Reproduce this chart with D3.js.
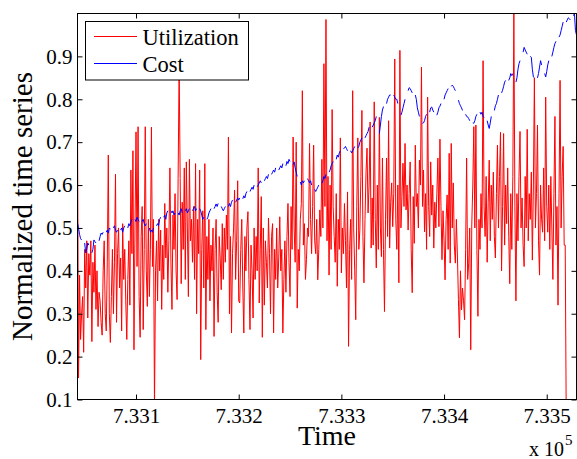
<!DOCTYPE html>
<html>
<head>
<meta charset="utf-8">
<script src="https://cdn.jsdelivr.net/npm/d3@7"></script>
<style>
  html, body { margin: 0; padding: 0; background: #fff; }
  svg { display: block; }
  text { font-family: "Liberation Serif", "Times New Roman", serif; fill: #000; }
</style>
</head>
<body>
<svg id="chart" width="577" height="459"></svg>
<script>
// Day numbers (datenum) of the first sample; one sample per day.
const firstDay = 733043;

// Daily utilization, one row per week (Mon..Sun).
const utilizationWeeks = [
  [0.76, 0.15, 0.39, 0.24, 0.30, 0.34, 0.21],
  [0.45, 0.36, 0.47, 0.29, 0.44, 0.39, 0.47],
  [0.235, 0.42, 0.35, 0.46, 0.31, 0.40, 0.27],
  [0.35, 0.33, 0.28, 0.25, 0.40, 0.47, 0.30],
  [0.26, 0.42, 0.67, 0.30, 0.233, 0.34, 0.45],
  [0.30, 0.42, 0.625, 0.28, 0.44, 0.50, 0.36],
  [0.43, 0.26, 0.51, 0.38, 0.45, 0.33, 0.24],
  [0.38, 0.47, 0.32, 0.635, 0.44, 0.68, 0.216],
  [0.50, 0.724, 0.41, 0.736, 0.34, 0.245, 0.48],
  [0.55, 0.263, 0.45, 0.736, 0.40, 0.317, 0.52],
  [0.34, 0.45, 0.735, 0.41, 0.52, 0.08, 0.40],
  [0.47, 0.33, 0.52, 0.40, 0.495, 0.31, 0.46],
  [0.38, 0.557, 0.43, 0.50, 0.35, 0.47, 0.64],
  [0.42, 0.31, 0.53, 0.45, 0.58, 0.40, 0.333],
  [0.615, 0.88, 0.615, 0.37, 0.56, 0.45, 0.64],
  [0.38, 0.654, 0.50, 0.34, 0.66, 0.47, 0.52],
  [0.42, 0.55, 0.38, 0.65, 0.30, 0.52, 0.44],
  [0.635, 0.193, 0.45, 0.54, 0.36, 0.65, 0.263],
  [0.48, 0.38, 0.52, 0.33, 0.46, 0.40, 0.50],
  [0.247, 0.45, 0.52, 0.35, 0.28, 0.48, 0.43],
  [0.356, 0.51, 0.38, 0.50, 0.42, 0.53, 0.45],
  [0.712, 0.30, 0.48, 0.255, 0.44, 0.50, 0.588],
  [0.38, 0.47, 0.61, 0.33, 0.325, 0.45, 0.52],
  [0.36, 0.255, 0.48, 0.40, 0.50, 0.538, 0.38],
  [0.263, 0.46, 0.40, 0.29, 0.50, 0.38, 0.48],
  [0.40, 0.64, 0.325, 0.45, 0.573, 0.245, 0.50],
  [0.32, 0.47, 0.42, 0.36, 0.523, 0.44, 0.30],
  [0.48, 0.51, 0.255, 0.45, 0.38, 0.50, 0.36],
  [0.43, 0.526, 0.40, 0.45, 0.255, 0.38, 0.47],
  [0.35, 0.48, 0.557, 0.42, 0.34, 0.55, 0.45],
  [0.712, 0.50, 0.42, 0.70, 0.313, 0.45, 0.40],
  [0.52, 0.557, 0.82, 0.46, 0.51, 0.38, 0.426],
  [0.50, 0.48, 0.697, 0.52, 0.44, 0.55, 0.693],
  [0.47, 0.44, 0.52, 0.379, 0.45, 0.542, 0.48],
  [0.66, 0.50, 0.883, 0.55, 0.986, 0.47, 0.62],
  [0.39, 0.60, 0.45, 0.776, 0.55, 0.48, 0.42],
  [0.58, 0.364, 0.52, 0.45, 0.71, 0.395, 0.50],
  [0.44, 0.557, 0.47, 0.36, 0.584, 0.224, 0.45],
  [0.52, 0.38, 0.82, 0.50, 0.40, 0.286, 0.55],
  [0.71, 0.45, 0.495, 0.62, 0.774, 0.48, 0.372],
  [0.52, 0.63, 0.686, 0.535, 0.60, 0.747, 0.453],
  [0.57, 0.46, 0.794, 0.52, 0.407, 0.60, 0.45],
  [0.758, 0.50, 0.433, 0.663, 0.45, 0.305, 0.52],
  [0.663, 0.48, 0.75, 0.453, 0.56, 0.605, 0.503],
  [0.58, 0.894, 0.519, 0.45, 0.60, 0.372, 0.914],
  [0.50, 0.573, 0.651, 0.55, 0.697, 0.542, 0.60],
  [0.495, 0.58, 0.654, 0.45, 0.349, 0.573, 0.464],
  [0.693, 0.55, 0.58, 0.50, 0.658, 0.60, 0.875],
  [0.55, 0.635, 0.491, 0.58, 0.45, 0.805, 0.55],
  [0.48, 0.654, 0.53, 0.60, 0.453, 0.56, 0.50],
  [0.58, 0.663, 0.503, 0.707, 0.55, 0.426, 0.54],
  [0.47, 0.379, 0.52, 0.577, 0.45, 0.674, 0.418],
  [0.697, 0.50, 0.605, 0.46, 0.418, 0.52, 0.437],
  [0.333, 0.244, 0.40, 0.309, 0.36, 0.33, 0.286],
  [0.45, 0.663, 0.38, 0.418, 0.50, 0.216, 0.507],
  [0.60, 0.736, 0.50, 0.74, 0.45, 0.294, 0.52],
  [0.45, 0.58, 0.50, 0.89, 0.55, 0.48, 0.62],
  [0.42, 0.56, 0.658, 0.47, 0.60, 0.52, 0.63],
  [0.48, 0.43, 0.58, 0.693, 0.50, 0.62, 0.723],
  [0.40, 0.55, 0.72, 0.46, 0.60, 0.51, 0.64],
  [0.48, 0.37, 0.58, 0.45, 0.62, 1.0, 0.55],
  [0.33, 0.58, 0.47, 0.62, 0.725, 0.50, 0.57],
  [0.46, 0.41, 0.62, 0.50, 0.73, 0.47, 0.58],
  [0.52, 0.63, 0.425, 0.60, 0.85, 0.50, 0.58],
  [0.74, 0.47, 0.39, 0.60, 0.52, 0.49, 0.64],
  [0.47, 0.805, 0.55, 0.49, 0.60, 0.45, 0.62],
  [0.50, 0.38, 0.58, 0.76, 0.46, 0.55, 0.32],
  [0.58, 0.844, 0.50, 0.62, 0.69, 0.46, 0.46],
  [0.06, 0.05, 0.07, 0.04, 0.06, 0.05, 0.06],
  [0.05, 0.06, 0.04, 0.05]
];

// Daily cost, one row per week; weekends have no value (null).
const costWeeks = [
  [0.512, 0.50, 0.485, 0.475, 0.472, null, null],
  [0.465, 0.442, 0.45, 0.465, 0.46, null, null],
  [0.442, 0.45, 0.472, 0.468, 0.465, null, null],
  [0.47, 0.48, 0.488, 0.485, 0.49, null, null],
  [0.49, 0.495, 0.488, 0.50, 0.497, null, null],
  [0.50, 0.505, 0.495, 0.49, 0.495, null, null],
  [0.495, 0.50, 0.49, 0.50, 0.505, null, null],
  [0.50, 0.51, 0.505, 0.515, 0.52, null, null],
  [0.52, 0.515, 0.525, 0.52, 0.515, null, null],
  [0.515, 0.52, 0.51, 0.505, 0.51, null, null],
  [0.50, 0.49, 0.495, 0.49, 0.50, null, null],
  [0.505, 0.51, 0.505, 0.52, 0.525, null, null],
  [0.525, 0.53, 0.52, 0.535, 0.54, null, null],
  [0.54, 0.535, 0.54, 0.53, 0.535, null, null],
  [0.535, 0.53, 0.54, 0.545, 0.535, null, null],
  [0.54, 0.545, 0.535, 0.54, 0.545, null, null],
  [0.54, 0.545, 0.55, 0.54, 0.545, null, null],
  [0.545, 0.54, 0.53, 0.52, 0.525, null, null],
  [0.52, 0.525, 0.535, 0.54, 0.545, null, null],
  [0.545, 0.55, 0.556, 0.55, 0.557, null, null],
  [0.55, 0.545, 0.54, 0.545, 0.55, null, null],
  [0.55, 0.557, 0.55, 0.56, 0.565, null, null],
  [0.56, 0.565, 0.57, 0.565, 0.57, null, null],
  [0.568, 0.575, 0.57, 0.58, 0.585, null, null],
  [0.585, 0.59, 0.595, 0.59, 0.60, null, null],
  [0.596, 0.60, 0.605, 0.61, 0.605, null, null],
  [0.61, 0.615, 0.62, 0.615, 0.625, null, null],
  [0.625, 0.63, 0.635, 0.63, 0.64, null, null],
  [0.635, 0.64, 0.645, 0.64, 0.65, null, null],
  [0.645, 0.655, 0.65, 0.66, 0.655, null, null],
  [0.648, 0.654, 0.64, 0.63, 0.62, null, null],
  [0.607, 0.60, 0.61, 0.605, 0.61, null, null],
  [0.615, 0.61, 0.605, 0.61, 0.60, null, null],
  [0.59, 0.585, 0.59, 0.595, 0.60, null, null],
  [0.604, 0.61, 0.62, 0.615, 0.625, null, null],
  [0.63, 0.635, 0.645, 0.65, 0.655, null, null],
  [0.66, 0.67, 0.665, 0.675, 0.68, null, null],
  [0.685, 0.686, 0.69, 0.685, 0.68, null, null],
  [0.68, 0.675, 0.68, 0.685, 0.69, null, null],
  [0.686, 0.69, 0.70, 0.705, 0.71, null, null],
  [0.71, 0.715, 0.72, 0.725, 0.735, null, null],
  [0.735, 0.74, 0.745, 0.75, 0.76, null, null],
  [0.72, 0.74, 0.76, 0.775, 0.783, null, null],
  [0.79, 0.80, 0.805, 0.81, 0.81, null, null],
  [0.81, 0.805, 0.80, 0.80, 0.79, null, null],
  [0.763, 0.77, 0.78, 0.79, 0.80, null, null],
  [0.82, 0.827, 0.825, 0.82, 0.815, null, null],
  [0.81, 0.80, 0.78, 0.77, 0.76, null, null],
  [0.744, 0.745, 0.75, 0.76, 0.765, null, null],
  [0.77, 0.78, 0.782, 0.775, 0.77, null, null],
  [0.763, 0.77, 0.78, 0.784, 0.79, null, null],
  [0.80, 0.81, 0.815, 0.82, 0.825, null, null],
  [0.83, 0.833, 0.83, 0.825, 0.82, null, null],
  [0.798, 0.79, 0.785, 0.78, 0.774, null, null],
  [0.765, 0.76, 0.759, 0.755, 0.75, null, null],
  [0.745, 0.744, 0.75, 0.76, 0.765, null, null],
  [0.77, 0.765, 0.77, 0.76, 0.757, null, null],
  [0.75, 0.74, 0.732, 0.745, 0.76, null, null],
  [0.774, 0.785, 0.79, 0.80, 0.81, null, null],
  [0.815, 0.821, 0.83, 0.84, 0.844, null, null],
  [0.844, 0.85, 0.86, 0.855, 0.86, null, null],
  [0.84, 0.85, 0.87, 0.883, 0.89, null, null],
  [0.91, 0.921, 0.915, 0.91, 0.905, null, null],
  [0.90, 0.898, 0.87, 0.852, 0.85, null, null],
  [0.85, 0.86, 0.875, 0.89, 0.88, null, null],
  [0.86, 0.852, 0.865, 0.88, 0.89, null, null],
  [0.90, 0.91, 0.921, 0.93, 0.935, null, null],
  [0.945, 0.95, 0.96, 0.97, 0.98, null, null],
  [0.98, 0.985, 0.99, 0.988, 0.985, null, null],
  [0.995, 1.0, 0.96, 0.95]
];

const yTicks = [0.1, 0.2, 0.3, 0.4, 0.5, 0.6, 0.7, 0.8, 0.9];
const xTicks = [733100, 733200, 733300, 733400, 733500];
const xTickLabels = ["7.331", "7.332", "7.333", "7.334", "7.335"];
const seriesNames = ["Utilization", "Cost"];
const seriesColors = ["#ff0000", "#0000ff"];

const utilization = utilizationWeeks.flat();
const cost = costWeeks.flat();

const svg = d3.select("#chart");
const plot = { left: 77.5, right: 576.5, top: 13.5, bottom: 399.5 };

const x = d3.scaleLinear()
  .domain([firstDay, firstDay + utilization.length - 1])
  .range([plot.left, plot.right]);
const y = d3.scaleLinear()
  .domain([0.1, 1.0])
  .range([plot.bottom, plot.top]);

svg.append("defs").append("clipPath").attr("id", "plot-clip")
  .append("rect")
  .attr("x", plot.left).attr("y", plot.top)
  .attr("width", plot.right - plot.left)
  .attr("height", plot.bottom - plot.top);

const line = d3.line()
  .defined(v => v != null)
  .x((v, i) => x(firstDay + i))
  .y(v => y(v));

const lines = svg.append("g").attr("clip-path", "url(#plot-clip)");
[utilization, cost].forEach((series, k) => {
  lines.append("path")
    .datum(series)
    .attr("fill", "none")
    .attr("stroke", seriesColors[k])
    .attr("stroke-width", 1)
    .attr("stroke-linejoin", "round")
    .attr("d", line);
});

// Axes: ticks point inward on all four sides, labels on left and bottom.
const tickFont = 21;
const bottomAxis = d3.axisBottom(x).tickValues(xTicks)
  .tickFormat((d, i) => xTickLabels[i]).tickSizeInner(-5).tickSizeOuter(0).tickPadding(9);
const topAxis = d3.axisTop(x).tickValues(xTicks).tickFormat("")
  .tickSizeInner(-5).tickSizeOuter(0);
const leftAxis = d3.axisLeft(y).tickValues(yTicks)
  .tickFormat(d3.format(".1f")).tickSizeInner(-5).tickSizeOuter(0).tickPadding(5);
const rightAxis = d3.axisRight(y).tickValues(yTicks).tickFormat("")
  .tickSizeInner(-5).tickSizeOuter(0);

function styleAxis(g) {
  g.select(".domain").remove();
  g.selectAll(".tick line").attr("stroke", "#000").attr("stroke-width", 1);
  g.selectAll(".tick text")
    .attr("font-family", '"Liberation Serif", "Times New Roman", serif')
    .attr("font-size", tickFont)
    .attr("fill", "#000");
}

svg.append("g").attr("transform", `translate(0,${plot.bottom})`).call(bottomAxis).call(styleAxis);
svg.append("g").attr("transform", `translate(0,${plot.top})`).call(topAxis).call(styleAxis);
svg.append("g").attr("transform", `translate(${plot.left},0)`).call(leftAxis).call(styleAxis);
svg.append("g").attr("transform", `translate(${plot.right},0)`).call(rightAxis).call(styleAxis);

svg.append("rect")
  .attr("x", plot.left).attr("y", plot.top)
  .attr("width", plot.right - plot.left)
  .attr("height", plot.bottom - plot.top)
  .attr("fill", "none").attr("stroke", "#000").attr("stroke-width", 1);

// Axis titles
svg.append("text")
  .attr("x", (plot.left + plot.right) / 2).attr("y", 445)
  .attr("text-anchor", "middle").attr("font-size", 28)
  .text("Time");

svg.append("text")
  .attr("transform", `translate(32,${(plot.top + plot.bottom) / 2}) rotate(-90)`)
  .attr("text-anchor", "middle").attr("font-size", 29)
  .text("Normalized time series");

// Exponent of the x axis
const expo = svg.append("text").attr("x", 529).attr("y", 456).attr("font-size", 20);
expo.append("tspan").text("x 10");
expo.append("tspan").attr("x", 565).attr("y", 445).attr("font-size", 15).text("5");

// Legend
const legend = svg.append("g");
legend.append("rect")
  .attr("x", 85.5).attr("y", 21.5).attr("width", 163).attr("height", 58.5)
  .attr("fill", "#fff").attr("stroke", "#000").attr("stroke-width", 1);
seriesNames.forEach((name, k) => {
  const cy = 36.5 + k * 27;
  legend.append("line")
    .attr("x1", 94).attr("x2", 137).attr("y1", cy).attr("y2", cy)
    .attr("stroke", seriesColors[k]).attr("stroke-width", 1);
  legend.append("text")
    .attr("x", 142.5).attr("y", cy + 8.5)
    .attr("font-size", 22.5)
    .text(name);
});
</script>
</body>
</html>
